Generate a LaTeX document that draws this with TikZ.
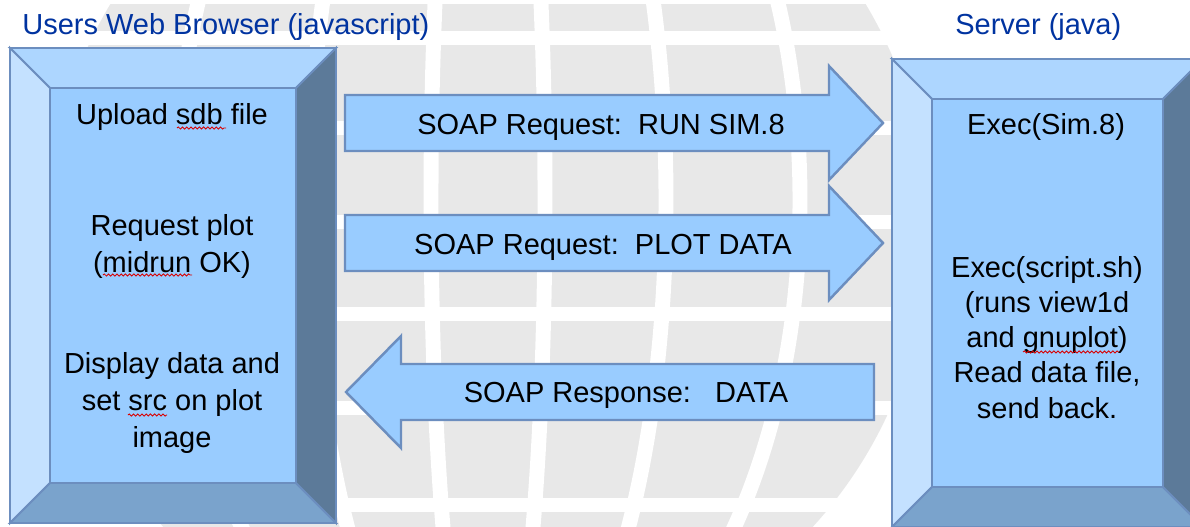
\documentclass[tikz,border=0pt]{standalone}
\usepackage{fontspec}
\setmainfont{Liberation Sans}
\usetikzlibrary{decorations.pathmorphing}
\definecolor{globegray}{RGB}{232,232,232}
\definecolor{facecol}{RGB}{153,204,255}
\definecolor{bevtop}{RGB}{173,214,255}
\definecolor{bevleft}{RGB}{196,225,255}
\definecolor{bevbottom}{RGB}{122,163,204}
\definecolor{bevright}{RGB}{92,122,153}
\definecolor{edgecol}{RGB}{108,142,191}
\definecolor{titleblue}{RGB}{0,51,160}
\tikzset{
  globeline/.style={white,line width=8.5pt},
  bevel/.style={draw=edgecol,line width=1.1pt,line join=miter},
  blockarrow/.style={fill=facecol,draw=edgecol,line width=1.4pt},
  boxtext/.style={font=\fontsize{16.5}{20}\selectfont,align=center,inner sep=0pt},
  lefttext/.style={boxtext,font=\fontsize{16.5}{21}\selectfont},
  headtext/.style={boxtext,text=titleblue},
  typo/.style={red!85!black,line width=0.5pt,decorate,decoration={snake,amplitude=0.6pt,segment length=2.4pt}}
}
% bevelled box: x1,y1,x2,y2,bevel
\newcommand{\bevelbox}[5]{%
  \path[bevel,fill=bevtop] (#1,#2) -- (#3,#2) -- ({#3-#5},{#2+#5}) -- ({#1+#5},{#2+#5}) -- cycle;
  \path[bevel,fill=bevleft] (#1,#2) -- ({#1+#5},{#2+#5}) -- ({#1+#5},{#4-#5}) -- (#1,#4) -- cycle;
  \path[bevel,fill=bevbottom] (#1,#4) -- ({#1+#5},{#4-#5}) -- ({#3-#5},{#4-#5}) -- (#3,#4) -- cycle;
  \path[bevel,fill=bevright] (#3,#2) -- (#3,#4) -- ({#3-#5},{#4-#5}) -- ({#3-#5},{#2+#5}) -- cycle;
  \path[bevel,fill=facecol] ({#1+#5},{#2+#5}) rectangle ({#3-#5},{#4-#5});
}
\begin{document}
\begin{tikzpicture}[x=0.02cm,y=-0.02cm]
\useasboundingbox (0,0) rectangle (1190,527);
\clip (0,0) rectangle (1190,527);
\fill[white] (0,0) rectangle (1190,527);
% globe in the background
\begin{scope}
\clip (0,5) rectangle (1190,527);
\fill[globegray] (488,230) circle (440);
\foreach \y in {38,128,222,314,408,505}
  \draw[globeline] (0,\y) -- (1190,\y);
\foreach \a in {57,178,312}
  \draw[globeline] (488,200) ellipse ({\a} and 533);
\end{scope}
% the two boxes
\bevelbox{10}{48}{336}{523}{40}
\bevelbox{892}{59}{1203}{527}{40}
% block arrows
\draw[blockarrow] (345,95) -- (829,95) -- (829,66) -- (883,123) -- (829,180) -- (829,151) -- (345,151) -- cycle;
\draw[blockarrow] (345,215) -- (829,215) -- (829,186) -- (883,243) -- (829,300) -- (829,271) -- (345,271) -- cycle;
\draw[blockarrow] (874,364) -- (401,364) -- (401,336) -- (346,392) -- (401,448) -- (401,420) -- (874,420) -- cycle;
% texts
\node[headtext,anchor=base west] (browsertitle) at (22,35) {Users Web Browser (javascript)};
\node[headtext,anchor=base west] (servertitle) at (955,35) {Server (java)};
\node[lefttext,anchor=base] (upload) at (172,125) {Upload sdb file};
\node[lefttext,anchor=base] (reqplot) at (172,272) {Request plot\\(midrun OK)};
\node[lefttext,anchor=base] (display) at (172,447) {Display data and\\set src on plot\\image};
\node[boxtext,anchor=base] (execsim) at (1046,134) {Exec(Sim.8)};
\node[boxtext,anchor=base] (execscript) at (1047,418) {Exec(script.sh)\\(runs view1d\\and gnuplot)\\Read data file,\\send back.};
\node[boxtext,anchor=base] (runsim) at (601,134) {SOAP Request:~~RUN SIM.8};
\node[boxtext,anchor=base] (plotdata) at (603,254) {SOAP Request:~~PLOT DATA};
\node[boxtext,anchor=base] (response) at (626,402) {SOAP Response:~~~DATA};
% spelling marks
\draw[typo] (177,128) -- (226,128);
\draw[typo] (103,275) -- (192,275);
\draw[typo] (128,415) -- (167,415);
\draw[typo] (1023,352) -- (1119,352);
\end{tikzpicture}
\end{document}
